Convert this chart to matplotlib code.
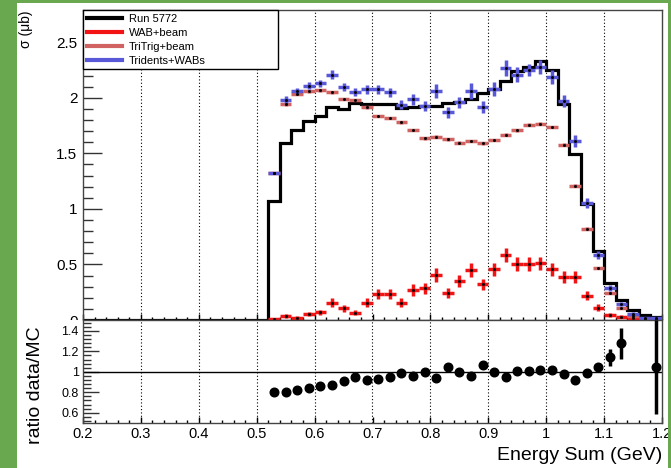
import numpy as np
import matplotlib
matplotlib.use("Agg")
import matplotlib.pyplot as plt
from matplotlib.lines import Line2D
from matplotlib.patches import Rectangle
from matplotlib.ticker import MultipleLocator, FixedLocator

plt.rcParams['font.family'] = ['Liberation Sans', 'DejaVu Sans']

# Energy-sum binning (GeV)
x_min, x_max, bin_w = 0.2, 1.2, 0.02
first_filled = 0.52

# Cross sections per bin (ub), bins 0.52 .. 1.20
run5772 = [1.07, 1.59, 1.71, 1.79, 1.84, 1.92, 1.90, 1.95, 1.94, 1.94, 1.94, 1.91,
           1.92, 1.93, 1.93, 1.95, 1.96, 1.99, 2.04, 2.08, 2.15, 2.24, 2.28, 2.33,
           2.25, 1.94, 1.49, 1.04, 0.62, 0.33, 0.18, 0.09, 0.045, 0.024]
wab_beam = [0.006, 0.036, 0.021, 0.051, 0.069, 0.156, 0.105, 0.066, 0.156, 0.231,
            0.231, 0.156, 0.27, 0.285, 0.405, 0.24, 0.351, 0.45, 0.321, 0.456,
            0.586, 0.505, 0.505, 0.51, 0.456, 0.39, 0.39, 0.219, 0.111, 0.045,
            0.03, 0.015, 0.006, 0.004]
wab_beam_err = [0.005, 0.015, 0.012, 0.018, 0.02, 0.04, 0.03, 0.02, 0.04, 0.045,
                0.045, 0.04, 0.05, 0.05, 0.06, 0.045, 0.055, 0.06, 0.05, 0.06,
                0.065, 0.06, 0.06, 0.06, 0.06, 0.055, 0.055, 0.04, 0.03, 0.02,
                0.015, 0.01, 0.006, 0.004]
tritrig_beam = [1.32, 1.94, 2.036, 2.057, 2.066, 2.05, 1.99, 1.98, 1.915, 1.835,
                1.817, 1.778, 1.71, 1.636, 1.649, 1.625, 1.595, 1.61, 1.59, 1.62,
                1.667, 1.706, 1.757, 1.766, 1.736, 1.577, 1.21, 0.823, 0.466, 0.246,
                0.105, 0.04, 0.012, 0.008]
tritrig_beam_err = [0.01, 0.012, 0.012, 0.012, 0.012, 0.012, 0.012, 0.012, 0.012,
                    0.012, 0.012, 0.012, 0.012, 0.012, 0.012, 0.012, 0.012, 0.012,
                    0.012, 0.012, 0.012, 0.012, 0.012, 0.012, 0.012, 0.012, 0.012,
                    0.01, 0.008, 0.006, 0.004, 0.003, 0.002, 0.002]
tridents_wabs = [1.327, 1.98, 2.057, 2.11, 2.13, 2.207, 2.096, 2.05, 2.075, 2.075,
                 2.05, 1.937, 1.985, 1.93, 2.06, 1.87, 1.96, 2.06, 1.915, 2.08,
                 2.267, 2.207, 2.25, 2.28, 2.19, 1.97, 1.61, 1.05, 0.585, 0.291,
                 0.144, 0.054, 0.018, 0.014]
tridents_wabs_err = [0.009, 0.033, 0.027, 0.032, 0.032, 0.042, 0.036, 0.036, 0.042,
                     0.042, 0.042, 0.04, 0.048, 0.045, 0.063, 0.05, 0.05, 0.069,
                     0.052, 0.063, 0.075, 0.068, 0.057, 0.063, 0.063, 0.052, 0.054,
                     0.045, 0.036, 0.027, 0.022, 0.014, 0.01, 0.01]

# Data / MC ratio (bins out of the plotted range are left empty)
ratio = [0.80, 0.80, 0.824, 0.84, 0.857, 0.873, 0.906, 0.948, 0.922, 0.929, 0.948,
         0.987, 0.964, 1.003, 0.938, 1.046, 0.997, 0.964, 1.068, 0.997, 0.954,
         1.013, 1.013, 1.02, 1.02, 0.98, 0.922, 0.99, 1.052, 1.143, 1.28,
         np.nan, np.nan, 1.05]
ratio_err = [0.012, 0.012, 0.012, 0.012, 0.012, 0.012, 0.012, 0.012, 0.012, 0.012,
             0.012, 0.012, 0.012, 0.012, 0.012, 0.012, 0.012, 0.012, 0.012, 0.012,
             0.012, 0.012, 0.012, 0.012, 0.012, 0.015, 0.02, 0.025, 0.03, 0.085,
             0.153, 0.0, 0.0, 0.46]

labels = ["Run 5772", "WAB+beam", "TriTrig+beam", "Tridents+WABs"]
c_data, c_wab, c_tri, c_sum = "black", "#f21414", "#d06262", "#5858d8"

# bin geometry
n_filled = len(run5772)
n_empty = int(round((first_filled - x_min) / bin_w))
edges = x_min + bin_w * np.arange(n_empty + n_filled + 1)
centers = first_filled + bin_w * (np.arange(n_filled) + 0.5)
hist_vals = np.concatenate([np.zeros(n_empty), run5772])

W, H = 671, 468
fig = plt.figure(figsize=(W / 100, H / 100), dpi=100, facecolor="white")

def fx(px):
    return px / W

def fy(py):
    return 1 - py / H

ax = fig.add_axes([fx(83), fy(320), fx(662) - fx(83), fy(10) - fy(320)], zorder=0)
axr = fig.add_axes([fx(83), fy(423), fx(662) - fx(83), fy(320) - fy(423)], zorder=2)

# white lower pad hides the part of the upper pad below its frame
fig.add_artist(Rectangle((fx(17), 0), fx(668) - fx(17), fy(320), transform=fig.transFigure,
                         facecolor="white", edgecolor="none", zorder=1))

grid_x = np.arange(3, 12) / 10.0
dot = (0, (1, 2))

# ---- upper pad ----
for g in grid_x:
    ax.axvline(g, color="black", lw=0.8, ls=dot, zorder=1)
ax.stairs(hist_vals, edges, color=c_data, lw=2.3, baseline=None, zorder=2)
for vals, errs, col in ((wab_beam, wab_beam_err, c_wab),
                        (tritrig_beam, tritrig_beam_err, c_tri),
                        (tridents_wabs, tridents_wabs_err, c_sum)):
    ax.errorbar(centers, vals, yerr=errs, xerr=bin_w / 2, fmt="s", ms=1.0,
                mfc="black", mec="black", ecolor=col, elinewidth=2.5, capsize=0, zorder=3)

ax.set_xlim(x_min, x_max)
ax.set_ylim(0, 2.79)
ax.yaxis.set_major_locator(FixedLocator([0, 0.5, 1, 1.5, 2, 2.5]))
ax.yaxis.set_minor_locator(MultipleLocator(0.1))
ax.set_yticklabels(["0", "0.5", "1", "1.5", "2", "2.5"])
ax.xaxis.set_major_locator(MultipleLocator(0.1))
ax.xaxis.set_minor_locator(MultipleLocator(0.02))
ax.tick_params(axis="y", which="major", direction="in", length=14, width=1,
               color="#333333", labelsize=11, pad=4)
ax.tick_params(axis="y", which="minor", direction="in", length=7, width=1, color="#333333")
ax.tick_params(axis="x", which="major", direction="in", length=4, width=1,
               labelbottom=False)
ax.tick_params(axis="x", which="minor", direction="in", length=2.5, width=1)
for s in ax.spines.values():
    s.set_color("#444444")
    s.set_linewidth(1)

handles = [Line2D([], [], color=c, lw=3) for c in (c_data, c_wab, c_tri, c_sum)]
leg = ax.legend(handles, labels, loc="upper left", bbox_to_anchor=(0, 0.81, 0.337, 0.19),
                mode="expand", borderaxespad=0, fontsize=8, frameon=True, fancybox=False,
                framealpha=1, edgecolor="black", handlelength=3.2, handletextpad=0.6,
                labelspacing=0.35, borderpad=0.35)
leg.get_frame().set_linewidth(1)
leg.set_zorder(10)

# ---- ratio pad ----
for g in grid_x:
    axr.axvline(g, color="black", lw=0.8, ls=dot, zorder=1)
axr.axhline(1.0, color="black", lw=1, zorder=2)
axr.errorbar(centers, ratio, yerr=ratio_err, fmt="o", ms=6.2, color="black",
             elinewidth=2.5, capsize=0, zorder=3)
axr.set_xlim(x_min, x_max)
axr.set_ylim(0.5, 1.507)
axr.yaxis.set_major_locator(FixedLocator([0.6, 0.8, 1.0, 1.2, 1.4]))
axr.set_yticklabels(["0.6", "0.8", "1", "1.2", "1.4"])
axr.yaxis.set_minor_locator(MultipleLocator(0.04))
axr.xaxis.set_major_locator(MultipleLocator(0.1))
axr.xaxis.set_minor_locator(MultipleLocator(0.02))
axr.set_xticklabels([f"{v:g}" for v in axr.get_xticks()])
axr.tick_params(axis="y", which="major", direction="in", length=11.5, width=1,
                color="#333333", labelsize=9, pad=3)
axr.tick_params(axis="y", which="minor", direction="in", length=5.5, width=1, color="#333333")
axr.tick_params(axis="x", which="major", direction="in", length=4, width=1,
                labelsize=10.5, pad=3)
axr.tick_params(axis="x", which="minor", direction="in", length=2.5, width=1)
for s in axr.spines.values():
    s.set_color("#444444")
    s.set_linewidth(1)

# axis titles
fig.text(fx(26), fy(11), "σ (μb)", rotation=90, ha="center", va="top", fontsize=10)
fig.text(fx(36), fy(385), "ratio data/MC", rotation=90, ha="center", va="center", fontsize=14)
fig.text(fx(662), fy(460), "Energy Sum (GeV)", ha="right", va="baseline", fontsize=14)

# green page border
green = "#6aa84f"
for (x0, y0, w, h) in ((0, 0, fx(17), 1), (0, fy(3), 1, 1 - fy(3)), (fx(668), 0, 1 - fx(668), 1)):
    fig.add_artist(Rectangle((x0, y0), w, h, transform=fig.transFigure,
                             facecolor=green, edgecolor="none", zorder=20))

fig.savefig("out.png", dpi=100, facecolor=fig.get_facecolor())
